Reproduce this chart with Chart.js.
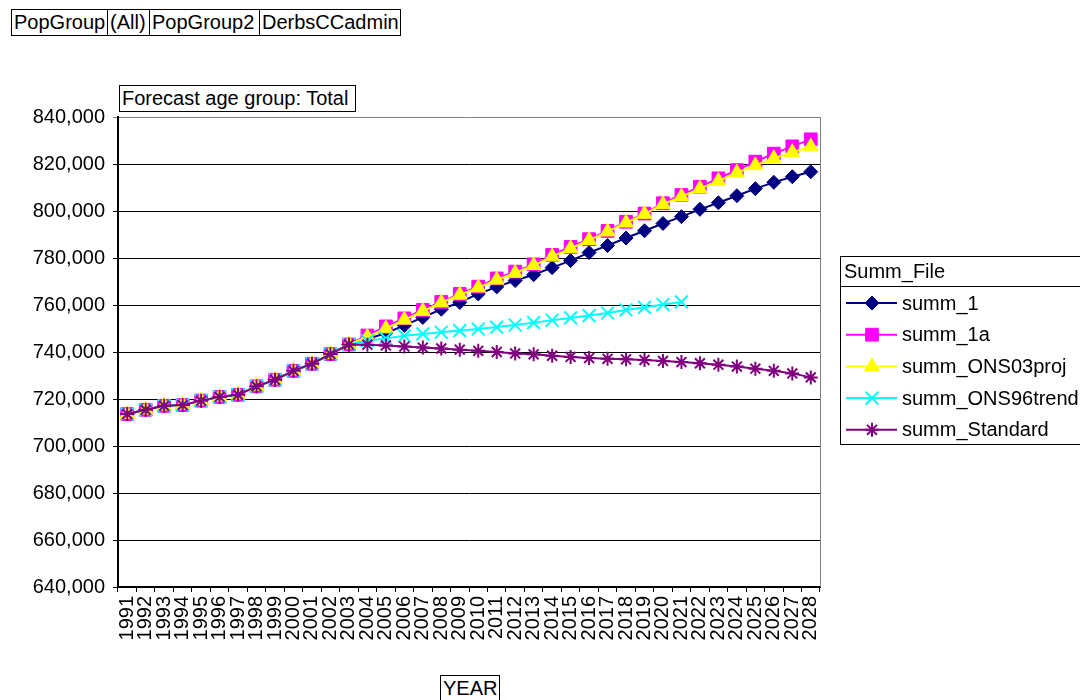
<!DOCTYPE html>
<html>
<head>
<meta charset="utf-8">
<script src="https://cdn.jsdelivr.net/npm/chart.js@4.4.1/dist/chart.umd.min.js"></script>
<style>
  body { margin: 0; background: #fff; }
  #wrap { position: relative; width: 1080px; height: 700px; overflow: hidden; font-family: "Liberation Sans", Arial, sans-serif; }
  #wrap canvas { position: absolute; left: 0; top: 0; }
  .box { position: absolute; border: 1px solid #000; font-size: 20px; line-height: 25px; height: 27px; box-sizing: border-box; padding: 0 2px; background: #fff; white-space: nowrap; color: #000; }
</style>
</head>
<body>
<div id="wrap">
  <canvas id="myChart" width="1080" height="700"></canvas>
  <div class="box" style="left:11px; top:9px; width:97px;">PopGroup</div>
  <div class="box" style="left:107px; top:9px; width:43px;">(All)</div>
  <div class="box" style="left:149px; top:9px; width:111px;">PopGroup2</div>
  <div class="box" style="left:259px; top:9px; width:142px;">DerbsCCadmin</div>
  <div class="box" style="left:119px; top:85px; width:237px;">Forecast age group: Total</div>
  <div class="box" style="left:440px; top:675px; width:60px;">YEAR</div>
</div>
<script>
// Data

const years = ['1991', '1992', '1993', '1994', '1995', '1996', '1997', '1998', '1999', '2000',
  '2001', '2002', '2003', '2004', '2005', '2006', '2007', '2008', '2009', '2010',
  '2011', '2012', '2013', '2014', '2015', '2016', '2017', '2018', '2019', '2020',
  '2021', '2022', '2023', '2024', '2025', '2026', '2027', '2028'];

const summ1 = [713600, 715400, 717100, 717400, 719300, 720900, 721800, 725400, 728200, 732000,
  735000, 739100, 743200, 745600, 748000, 751300, 754700, 758200, 761100, 764700,
  767700, 770400, 772900, 775900, 778900, 782300, 785300, 788500, 791600, 794700,
  797600, 800700, 803500, 806500, 809500, 812200, 814600, 816700];

const summ1a = [713600, 715400, 717100, 717400, 719300, 720900, 721800, 725400, 728200, 732000,
  735000, 739100, 743200, 747000, 750900, 754300, 757900, 761300, 764700, 767800,
  771300, 774200, 777300, 781300, 784700, 788000, 791500, 795400, 798900, 803300,
  806800, 810300, 813900, 817400, 821000, 824400, 827500, 830500];

const summONS03proj = [713600, 715400, 717100, 717400, 719300, 720900, 721800, 725400, 728200, 732000,
  735000, 739100, 743200, 746400, 750000, 753700, 757400, 761000, 764300, 767400,
  770700, 773600, 776900, 780600, 784100, 787600, 791200, 795000, 798700, 802900,
  806100, 809500, 812800, 816300, 819400, 822400, 825000, 827400];

const summONS96trend = [713600, 715400, 717100, 717400, 719300, 720900, 721800, 725400, 728200, 732000,
  735000, 739100, 743200, 744800, 745800, 746900, 747700, 748400, 749100, 749800,
  750600, 751500, 752500, 753500, 754500, 755500, 756600, 757900, 759000, 760200,
  761300, null, null, null, null, null, null, null];

const summStandard = [713600, 715400, 717100, 717400, 719300, 720900, 721800, 725400, 728200, 732000,
  735000, 739100, 743200, 743100, 742800, 742300, 741900, 741500, 741000, 740500,
  740000, 739400, 739000, 738400, 737900, 737400, 737100, 736900, 736600, 736200,
  735700, 735200, 734600, 733800, 732900, 732000, 730900, 729200];

const yTicks = { min: 640000, max: 840000, step: 20000 };
const legendTitle = 'Summ_File';

// Chart

const FONT = { family: '"Liberation Sans", Arial, sans-serif', size: 20 };

const series = (label, data, color, style, radius, order) => ({
  label: label,
  data: data,
  borderColor: color,
  backgroundColor: color,
  pointBackgroundColor: color,
  pointBorderColor: color,
  borderWidth: 2,
  pointStyle: style,
  pointRadius: radius,
  pointHoverRadius: radius,
  pointBorderWidth: (style === 'crossRot' || style === 'star') ? 2 : 1,
  tension: 0,
  spanGaps: false,
  order: order,
});

const legendBox = {
  id: 'legendBox',
  afterDraw(chart) {
    const ctx = chart.ctx;
    ctx.save();
    ctx.strokeStyle = '#000';
    ctx.lineWidth = 1;
    ctx.strokeRect(840.5, 256.5, 260, 188);
    ctx.beginPath();
    ctx.moveTo(840, 286.5);
    ctx.lineTo(1080, 286.5);
    ctx.stroke();
    ctx.font = '20px "Liberation Sans", Arial, sans-serif';
    ctx.fillStyle = '#000';
    ctx.textBaseline = 'middle';
    ctx.fillText(legendTitle, 844, 272);
    chart.data.datasets.forEach((ds, i) => {
      const y = 303 + i * 31.7;
      ctx.strokeStyle = ds.borderColor;
      ctx.lineWidth = 2;
      ctx.beginPath();
      ctx.moveTo(846, y);
      ctx.lineTo(897, y);
      ctx.stroke();
      ctx.fillStyle = ds.pointBackgroundColor;
      ctx.lineWidth = ds.pointBorderWidth;
      Chart.helpers.drawPoint(ctx, {
        pointStyle: ds.pointStyle, radius: ds.pointRadius, rotation: 0, borderWidth: ds.pointBorderWidth
      }, 872, y);
      ctx.fillStyle = '#000';
      ctx.fillText(ds.label, 902, y + 1);
    });
    // right edge of the plot area
    const a = chart.chartArea;
    ctx.strokeStyle = '#808080';
    ctx.lineWidth = 1;
    ctx.beginPath();
    ctx.moveTo(a.right + 0.5, a.top);
    ctx.lineTo(a.right + 0.5, a.bottom);
    ctx.stroke();
    ctx.restore();
  }
};

const ctx = document.getElementById('myChart').getContext('2d');
const myChart = new Chart(ctx, {
  type: 'line',
  data: {
    labels: years,
    datasets: [
      series('summ_1', summ1, '#000080', 'rectRot', 7, 5),
      series('summ_1a', summ1a, '#ff00ff', 'rect', 9, 4),
      series('summ_ONS03proj', summONS03proj, '#ffff00', 'triangle', 8.5, 3),
      series('summ_ONS96trend', summONS96trend, '#00ffff', 'crossRot', 9, 2),
      series('summ_Standard', summStandard, '#800080', 'star', 7, 1),
    ],
  },
  options: {
    responsive: false,
    animation: false,
    devicePixelRatio: 1,
    layout: { padding: { top: 117, right: 260, left: 0, bottom: 0 } },
    plugins: { legend: { display: false }, tooltip: { enabled: false } },
    scales: {
      x: {
        type: 'category',
        offset: true,
        grid: { offset: true, drawOnChartArea: false, drawTicks: true, tickLength: 5, color: '#000' },
        border: { display: true, color: '#000', width: 2 },
        ticks: { autoSkip: false, minRotation: 90, maxRotation: 90, color: '#000', font: FONT, padding: 4 },
        afterFit: (scale) => { scale.height = 113; },
      },
      y: {
        min: yTicks.min,
        max: yTicks.max,
        grid: {
          color: (c) => (c.tick && c.tick.value === yTicks.max) ? '#808080' : '#000',
          lineWidth: 1,
          tickLength: 5,
        },
        border: { display: true, color: '#000', width: 2 },
        ticks: {
          stepSize: yTicks.step,
          color: '#000',
          font: FONT,
          padding: 8,
          callback: (v) => v.toLocaleString('en-US'),
        },
        afterFit: (scale) => { scale.width = 118; },
      },
    },
  },
  plugins: [legendBox],
});
</script>
</body>
</html>
